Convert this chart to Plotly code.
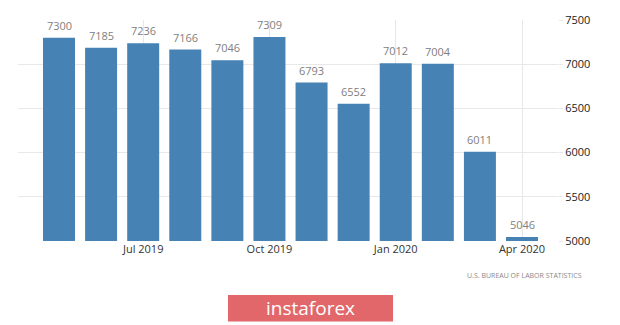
import plotly.graph_objects as go

months = ["May 2019", "Jun 2019", "Jul 2019", "Aug 2019", "Sep 2019", "Oct 2019",
          "Nov 2019", "Dec 2019", "Jan 2020", "Feb 2020", "Mar 2020", "Apr 2020"]
values = [7300, 7185, 7236, 7166, 7046, 7309, 6793, 6552, 7012, 7004, 6011, 5046]
tick_idx = [2, 5, 8, 11]
tick_labels = ["Jul 2019", "Oct 2019", "Jan 2020", "Apr 2020"]
y_ticks = [5000, 5500, 6000, 6500, 7000, 7500]

x = list(range(len(months)))

fig = go.Figure()
fig.add_trace(go.Bar(
    x=x, y=[v - 5000 for v in values], base=5000,
    marker=dict(color="#4682b4", line=dict(width=0)),
    cliponaxis=False, width=0.76, hoverinfo="skip",
))

for xi, v in zip(x, values):
    fig.add_annotation(x=xi, y=v, xref="x", yref="y", text=str(v), showarrow=False,
                       yanchor="bottom", xanchor="center", yshift=3,
                       font=dict(color="#808080", size=11, family="Open Sans"))

fig.update_layout(
    width=620, height=325,
    margin=dict(l=18, r=62, t=16, b=84),
    paper_bgcolor="white", plot_bgcolor="white",
    showlegend=False,
    font=dict(family="Open Sans", color="#333333"),
)
fig.update_xaxes(
    range=[-0.974, 11.855], tickmode="array", tickvals=tick_idx, ticktext=tick_labels,
    showgrid=True, gridcolor="#e8e8e8", gridwidth=1, zeroline=False,
    showline=False, ticks="", tickfont=dict(size=11, color="#333333"),
)
fig.update_yaxes(
    range=[5000, 7500], side="right", tickmode="array", tickvals=y_ticks,
    showgrid=True, gridcolor="#e8e8e8", gridwidth=1, zeroline=False,
    ticks="outside", ticklen=4, tickcolor="#e8e8e8",
    tickfont=dict(size=11, color="#222222"), showline=False,
)

fig.add_annotation(
    x=(584 - 18) / 540, y=(241 - 276) / 225, xref="paper", yref="paper",
    text="U.S. BUREAU OF LABOR STATISTICS",
    showarrow=False, xanchor="right", yanchor="middle",
    font=dict(size=7, color="#888888", family="Open Sans"),
)

fig.add_shape(type="rect", xref="paper", yref="paper",
              x0=(228 - 18) / 540, x1=(393 - 18) / 540,
              y0=(241 - 323) / 225, y1=(241 - 296) / 225,
              fillcolor="#e2676b", line=dict(width=0), layer="above")
fig.add_annotation(
    x=(310 - 18) / 540, y=(241 - 309.5) / 225, xref="paper", yref="paper", text="instaforex",
    showarrow=False, xanchor="center", yanchor="middle",
    font=dict(size=19, color="white", family="Open Sans"),
)

fig.write_html("out.html")
